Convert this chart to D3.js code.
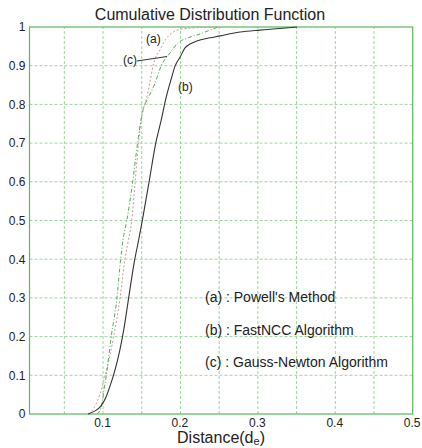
<!DOCTYPE html>
<html><head><meta charset="utf-8">
<script src="https://cdn.jsdelivr.net/npm/d3@7"></script>
<style>body{margin:0;background:#fff}svg{display:block}text{font-family:"Liberation Sans",Arial,sans-serif;fill:#222}</style>
</head><body>
<script>
const xTicks = [0.1, 0.2, 0.3, 0.4, 0.5];
const xGrid = [0.05, 0.1, 0.15, 0.2, 0.25, 0.3, 0.35, 0.4, 0.45];
const yTicks = [0, 0.1, 0.2, 0.3, 0.4, 0.5, 0.6, 0.7, 0.8, 0.9, 1];
const yTickLabels = ["0","0.1","0.2","0.3","0.4","0.5","0.6","0.7","0.8","0.9","1"];
const legendLabels = ["(a) : Powell's Method", "(b) : FastNCC Algorithm", "(c) : Gauss-Newton Algorithm"];

// (a) Powell's Method
const powellD = [0.0819,0.0884,0.0961,0.1039,0.1090,0.1133,0.1220,0.1278,0.1329,0.1368,0.1413,0.1459,0.1491,0.1517,0.1556,0.1607,0.1646,0.1736,0.1823,0.1908,0.1995,0.2124,0.2421];
const powellP = [0,0.016,0.052,0.109,0.152,0.196,0.300,0.393,0.450,0.496,0.597,0.700,0.760,0.786,0.811,0.858,0.900,0.941,0.972,0.987,0.994,0.997,1.0];
// (b) FastNCC
const fastD = [0.0806,0.0897,0.0974,0.1039,0.1090,0.1155,0.1217,0.1271,0.1327,0.1404,0.1465,0.1508,0.1594,0.1681,0.1758,0.1801,0.1888,0.1930,0.1995,0.2059,0.2124,0.2211,0.2382,0.2512,0.2680,0.2770,0.3028,0.3287,0.3506];
const fastP = [0,0.008,0.021,0.044,0.072,0.114,0.165,0.222,0.295,0.393,0.455,0.501,0.599,0.700,0.765,0.806,0.871,0.899,0.922,0.946,0.956,0.964,0.972,0.977,0.984,0.987,0.992,0.996,1.0];
// (c) Gauss-Newton
const gaussD = [0.0922,0.0974,0.1013,0.1052,0.1084,0.1103,0.1177,0.1226,0.1258,0.1304,0.1381,0.1446,0.1491,0.1523,0.1568,0.1672,0.1749,0.1866,0.1969,0.2098,0.2253,0.2382,0.2486];
const gaussP = [0,0.016,0.062,0.114,0.165,0.196,0.295,0.398,0.450,0.497,0.597,0.700,0.760,0.791,0.811,0.855,0.899,0.933,0.959,0.972,0.982,0.992,1.0];

const W = 422, H = 448;
const svg = d3.select("body").append("svg").attr("width", W).attr("height", H);
const x = d3.scaleLinear().domain([0.005, 0.5]).range([29.5, 412.7]);
const y = d3.scaleLinear().domain([0, 1]).range([414, 27]);

const gridColor = "#9fd49f";
const frameColor = "#5cb85c";

// grid
svg.append("g").selectAll("line").data(xGrid).join("line")
  .attr("x1", d => x(d)).attr("x2", d => x(d)).attr("y1", y(0)).attr("y2", y(1))
  .attr("stroke", gridColor).attr("stroke-width", 1).attr("stroke-dasharray", "3,2");
svg.append("g").selectAll("line").data(yTicks.slice(1, -1)).join("line")
  .attr("y1", d => y(d)).attr("y2", d => y(d)).attr("x1", x(0.005)).attr("x2", x(0.5))
  .attr("stroke", gridColor).attr("stroke-width", 1).attr("stroke-dasharray", "3,2");

// frame
svg.append("rect").attr("x", x(0.005)).attr("y", y(1))
  .attr("width", x(0.5) - x(0.005)).attr("height", y(0) - y(1))
  .attr("fill", "none").attr("stroke", frameColor).attr("stroke-width", 1.2);

// axes (labels only)
const xAxis = svg.append("g").attr("transform", `translate(0,${y(0)})`)
  .call(d3.axisBottom(x).tickValues(xTicks).tickSize(0).tickPadding(4).tickFormat(d3.format(".1f")));
xAxis.select(".domain").remove();
xAxis.selectAll("text").style("font-size", "12px").attr("fill", "#222").attr("dx", "-1");

const yAxis = svg.append("g").attr("transform", `translate(${x(0.005)},0)`)
  .call(d3.axisLeft(y).tickValues(yTicks).tickSize(0).tickPadding(4).tickFormat((d, i) => yTickLabels[i]));
yAxis.select(".domain").remove();
yAxis.selectAll("text").style("font-size", "12px").attr("fill", "#222");

// curves
const line = d3.line().x(d => x(d[0])).y(d => y(d[1])).curve(d3.curveMonotoneX);
const zip = (a, b) => a.map((v, i) => [v, b[i]]);

svg.append("path").datum(zip(powellD, powellP)).attr("d", line)
  .attr("fill", "none").attr("stroke", "#c99a9a").attr("stroke-width", 1).attr("stroke-dasharray", "2,2");
svg.append("path").datum(zip(gaussD, gaussP)).attr("d", line)
  .attr("fill", "none").attr("stroke", "#55aa55").attr("stroke-width", 1).attr("stroke-dasharray", "4,2,1,2");
svg.append("path").datum(zip(fastD, fastP)).attr("d", line)
  .attr("fill", "none").attr("stroke", "#333").attr("stroke-width", 1.1);

// annotations
svg.append("text").attr("x", 146).attr("y", 43).style("font-size", "12px").text("(a)");
svg.append("text").attr("x", 123).attr("y", 64).style("font-size", "12px").text("(c)");
svg.append("text").attr("x", 178).attr("y", 91).style("font-size", "12px").text("(b)");
svg.append("line").attr("x1", 137).attr("y1", 61).attr("x2", 167).attr("y2", 56.5)
  .attr("stroke", "#333").attr("stroke-width", 1);

// legend text
svg.append("g").selectAll("text").data(legendLabels).join("text")
  .attr("x", 205).attr("y", (d, i) => 302 + i * 32.5)
  .style("font-size", "14px").text(d => d);

// title
svg.append("text").attr("x", 210).attr("y", 20).attr("text-anchor", "middle")
  .style("font-size", "16px").text("Cumulative Distribution Function");

// x label
const xl = svg.append("text").attr("x", 221).attr("y", 443).attr("text-anchor", "middle").style("font-size", "16px");
xl.append("tspan").text("Distance(d");
xl.append("tspan").attr("dy", 2).style("font-size", "11px").text("e");
xl.append("tspan").attr("dy", -2).text(")");
</script>
</body></html>
